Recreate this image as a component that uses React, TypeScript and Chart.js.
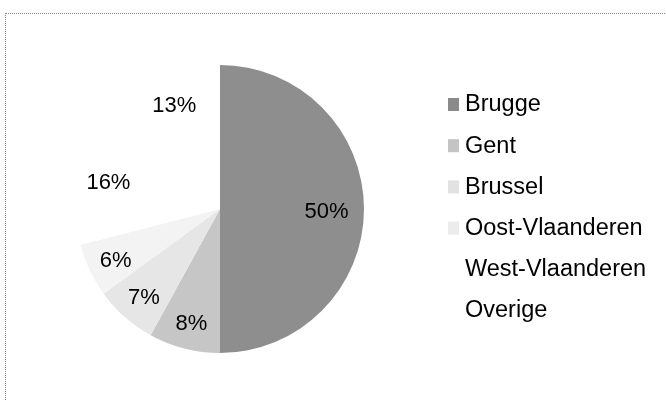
import React, { useEffect, useRef } from "react";
import { Chart, registerables } from "chart.js";

Chart.register(...registerables);

const categories = ["Brugge", "Gent", "Brussel", "Oost-Vlaanderen", "West-Vlaanderen", "Overige"];
const shares = [50, 8, 7, 6, 16, 13];
const percentLabels = ["50%", "8%", "7%", "6%", "16%", "13%"];
const sliceColors = ["#8e8e8e", "#c6c6c6", "#e6e6e6", "#f3f3f3", "#ffffff", "#ffffff"];
const legendColors = ["#8a8a8a", "#c4c4c4", "#e2e2e2", "#ececec", "#ffffff", "#ffffff"];

const FONT = "'Liberation Sans', Arial, sans-serif";

const labelPlugin = {
  id: "pctLabels",
  afterDatasetsDraw(chart: any) {
    const ctx = chart.ctx;
    const meta = chart.getDatasetMeta(0);
    ctx.save();
    ctx.font = `22px ${FONT}`;
    ctx.fillStyle = "#000000";
    ctx.textAlign = "center";
    ctx.textBaseline = "middle";
    meta.data.forEach((arc: any, i: number) => {
      const { x, y, startAngle, endAngle, outerRadius } = arc.getProps(
        ["x", "y", "startAngle", "endAngle", "outerRadius"],
        true
      );
      const mid = (startAngle + endAngle) / 2;
      const frac = shares[i] >= 50 ? 0.74 : 0.8;
      const r = outerRadius * frac;
      ctx.fillText(percentLabels[i], x + Math.cos(mid) * r, y + Math.sin(mid) * r + 3);
    });
    ctx.restore();
  },
};

const legendPlugin = {
  id: "sideLegend",
  afterDraw(chart: any) {
    const ctx = chart.ctx;
    const labels = chart.data.labels as string[];
    const x0 = 448;
    const y0 = 105;
    const step = 41.2;
    ctx.save();
    ctx.font = `23.5px ${FONT}`;
    ctx.textAlign = "left";
    ctx.textBaseline = "middle";
    labels.forEach((lab, i) => {
      const cy = y0 + i * step;
      ctx.fillStyle = legendColors[i];
      ctx.fillRect(x0, cy - 7, 11, 13);
      ctx.fillStyle = "#000000";
      ctx.fillText(lab, x0 + 17, cy);
    });
    ctx.restore();
  },
};

export default function App() {
  const ref = useRef<HTMLCanvasElement>(null);
  useEffect(() => {
    if (!ref.current) return;
    const chart = new Chart(ref.current, {
      type: "pie",
      data: {
        labels: categories,
        datasets: [
          {
            data: shares,
            backgroundColor: sliceColors,
            borderWidth: 0,
          },
        ],
      },
      options: {
        responsive: false,
        animation: false,
        layout: { padding: { left: 76, right: 302, top: 63, bottom: 46 } },
        plugins: {
          legend: { display: false },
          tooltip: { enabled: false },
        },
      },
      plugins: [labelPlugin, legendPlugin],
    });
    return () => chart.destroy();
  }, []);
  return (
    <div style={{ position: "fixed", left: 0, top: 0, width: 666, height: 401, background: "#fff" }}>
      <div
        style={{
          position: "absolute",
          left: 5,
          top: 13,
          width: 661,
          height: 388,
          borderTop: "1px dotted #8a8a8a",
          borderLeft: "1px dotted #8a8a8a",
        }}
      />
      <canvas ref={ref} width={666} height={401} style={{ position: "absolute", left: 0, top: 0 }} />
    </div>
  );
}
